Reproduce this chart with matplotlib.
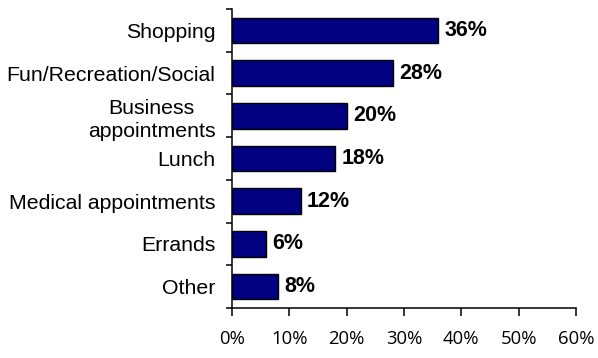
import matplotlib
matplotlib.use("Agg")
import matplotlib.pyplot as plt
import numpy as np

# data, top to bottom as shown
categories = ["Shopping", "Fun/Recreation/Social", "Business\nappointments",
              "Lunch", "Medical appointments", "Errands", "Other"]
values = [36, 28, 20, 18, 12, 6, 8]
xticks = [0, 10, 20, 30, 40, 50, 60]
xtick_labels = ["0%", "10%", "20%", "30%", "40%", "50%", "60%"]

fig = plt.figure(figsize=(5.98, 3.58), dpi=100)
ax = fig.add_axes([232 / 598, 1 - 308 / 358, (576 - 232) / 598, (308 - 9) / 358])

y = np.arange(len(categories))[::-1]
ax.barh(y, values, height=0.6, color="#000080", edgecolor="black", linewidth=1.0)

for yi, v in zip(y, values):
    ax.text(v + 1.1, yi, f"{v}%", va="center", ha="left",
            fontsize=15.5, fontweight="bold", family="Liberation Sans")

ax.set_xlim(0, 60)
ax.set_ylim(-0.5, len(categories) - 0.5)

# category labels at bar centres, tick marks at category boundaries
ax.set_yticks(y)
ax.set_yticklabels(categories, fontsize=15.3, family="Liberation Sans",
                   multialignment="center", linespacing=1.25)
ax.tick_params(axis="y", which="major", length=0, pad=12)
ax.set_yticks(np.arange(-0.5, len(categories)), minor=True)
ax.tick_params(axis="y", which="minor", length=4, width=1.1, direction="out")

ax.set_xticks(xticks)
ax.set_xticklabels(xtick_labels, fontsize=13.3, family="Open Sans")
ax.tick_params(axis="x", length=6, width=1.1, direction="out", pad=10)

for s in ["top", "right"]:
    ax.spines[s].set_visible(False)
for s in ["left", "bottom"]:
    ax.spines[s].set_linewidth(1.1)

fig.savefig("out.png", dpi=100)
